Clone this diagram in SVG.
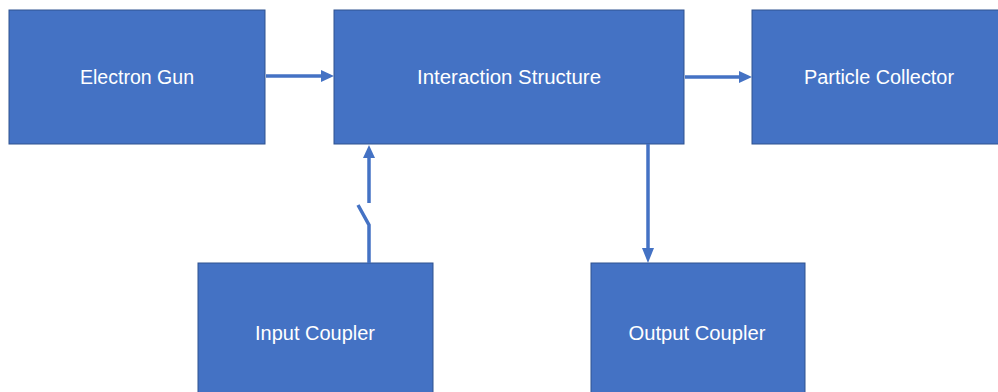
<svg xmlns="http://www.w3.org/2000/svg" width="998" height="392" viewBox="0 0 998 392">
  <style>
    .box { fill: #4472C4; stroke: #2F528F; stroke-width: 1; }
    .label { fill: #FFFFFF; font-family: "Liberation Sans", Arial, sans-serif; font-size: 20px; text-anchor: middle; }
    .wire { stroke: #4472C4; stroke-width: 3.5; fill: none; }
    .head { fill: #4472C4; }
  </style>
  <rect width="998" height="392" fill="#FFFFFF"/>

  <g id="electron-gun">
    <rect class="box" x="9" y="10" width="256" height="134"/>
    <text class="label" x="137" y="84" textLength="114" lengthAdjust="spacingAndGlyphs">Electron Gun</text>
  </g>
  <g id="interaction-structure">
    <rect class="box" x="334" y="10" width="350" height="134"/>
    <text class="label" x="509" y="84" textLength="184" lengthAdjust="spacingAndGlyphs">Interaction Structure</text>
  </g>
  <g id="particle-collector">
    <rect class="box" x="752" y="10" width="254" height="134"/>
    <text class="label" x="879" y="84" textLength="150" lengthAdjust="spacingAndGlyphs">Particle Collector</text>
  </g>
  <g id="input-coupler">
    <rect class="box" x="198" y="263" width="235" height="134"/>
    <text class="label" x="315" y="340" textLength="120" lengthAdjust="spacingAndGlyphs">Input Coupler</text>
  </g>
  <g id="output-coupler">
    <rect class="box" x="591" y="263" width="214" height="134"/>
    <text class="label" x="697" y="340" textLength="137" lengthAdjust="spacingAndGlyphs">Output Coupler</text>
  </g>

  <g id="connectors">
    <!-- gun to interaction structure -->
    <line class="wire" x1="266" y1="76" x2="323" y2="76"/>
    <polygon class="head" points="321,70 334,76 321,82"/>
    <!-- interaction structure to collector -->
    <line class="wire" x1="685" y1="77" x2="741" y2="77"/>
    <polygon class="head" points="739,71 752,77 739,83"/>
    <!-- input coupler to interaction structure, through an open switch -->
    <polyline class="wire" points="369,263 369,225 358,205"/>
    <line class="wire" x1="369" y1="203" x2="369" y2="156"/>
    <polygon class="head" points="363,158 369,145 375,158"/>
    <!-- interaction structure to output coupler -->
    <line class="wire" x1="648" y1="144" x2="648" y2="250"/>
    <polygon class="head" points="642,248 648,263 654,248"/>
  </g>
</svg>
